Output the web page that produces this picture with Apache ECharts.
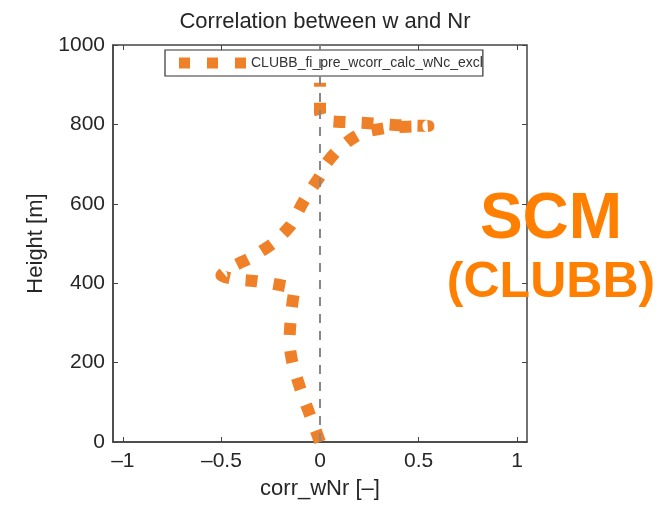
<!DOCTYPE html>
<html>
<head>
<meta charset="utf-8">
<script src="https://cdn.jsdelivr.net/npm/echarts@6/dist/echarts.min.js"></script>
<style>
    html, body { margin: 0; padding: 0; background: #fff; }
    #chart { width: 672px; height: 505px; }
</style>
</head>
<body>
<div id="chart"></div>
<script>
    // profile: correlation vs height
    const heights = [0, 40, 80, 120, 150, 200, 250, 300, 350, 385, 395, 405, 410, 420, 440, 465, 500, 545, 600, 640, 670, 700, 730, 760, 780, 792, 796, 798, 803, 806, 808, 815, 830, 870, 905];
    const corr    = [0, -0.03, -0.06, -0.09, -0.11, -0.14, -0.155, -0.15, -0.14, -0.13, -0.2, -0.32, -0.43, -0.5, -0.45, -0.35, -0.24, -0.15, -0.09, -0.04, 0, 0.03, 0.08, 0.15, 0.22, 0.35, 0.55, 0.4, 0.25, 0.12, 0.05, 0.01, 0, 0, 0];
    const xTicks = [-1, -0.5, 0, 0.5, 1];
    const seriesName = 'CLUBB_fi_pre_wcorr_calc_wNc_excl';

    const orange = '#f08028';
    const font = 'Liberation Sans, Arial, Helvetica, sans-serif';
    const fmt = v => String(v).replace('-', '\u2013');

    const points = heights.map((h, i) => [corr[i], h]);

    const chart = echarts.init(document.getElementById('chart'));
    chart.setOption({
        animation: false,
        textStyle: { fontFamily: font },
        title: {
            text: 'Correlation between w and Nr',
            left: 320,
            textAlign: 'center',
            top: 6,
            textStyle: { fontFamily: font, fontSize: 22, fontWeight: 'normal', color: '#262626' }
        },
        legend: {
            left: 165,
            top: 50,
            padding: [6, 0, 6, 14],
            borderColor: '#333',
            borderWidth: 1.2,
            itemWidth: 67,
            itemHeight: 11,
            itemGap: 5,
            icon: 'path://M0,0h11v11h-11z M28,0h11v11h-11z M56,0h11v11h-11z',
            itemStyle: { color: orange },
            data: [seriesName],
            textStyle: {
                fontFamily: font, fontSize: 14, color: '#333',
                width: 236, overflow: 'truncate', ellipsis: ''
            }
        },
        grid: {
            left: 113, right: 145, top: 45, bottom: 60,
            show: true, borderColor: '#444', borderWidth: 1.5
        },
        xAxis: [{
            type: 'value', min: -1.05, max: 1.05,
            name: 'corr_wNr [\u2013]', nameLocation: 'middle', nameGap: 36,
            nameTextStyle: { fontFamily: font, fontSize: 22, color: '#262626' },
            axisLine: { onZero: false, lineStyle: { color: '#444', width: 1.5 } },
            axisTick: { inside: true, length: 5, customValues: xTicks, lineStyle: { color: '#444' } },
            axisLabel: { customValues: xTicks, formatter: fmt, fontSize: 21, color: '#262626', margin: 9 },
            splitLine: { show: false }
        }, {
            type: 'value', min: -1.05, max: 1.05, position: 'top',
            axisLine: { show: false, onZero: false },
            axisTick: { inside: true, length: 5, customValues: xTicks, lineStyle: { color: '#444' } },
            axisLabel: { show: false },
            splitLine: { show: false }
        }],
        yAxis: [{
            type: 'value', min: 0, max: 1000, interval: 200,
            name: 'Height [m]', nameLocation: 'middle', nameGap: 66,
            nameTextStyle: { fontFamily: font, fontSize: 22, color: '#262626' },
            axisLine: { onZero: false, lineStyle: { color: '#444', width: 1.5 } },
            axisTick: { inside: true, length: 5, lineStyle: { color: '#444' } },
            axisLabel: { fontSize: 21, color: '#262626', margin: 8, formatter: v => String(v) },
            splitLine: { show: false }
        }, {
            type: 'value', min: 0, max: 1000, interval: 200, position: 'right',
            axisLine: { show: false, onZero: false },
            axisTick: { inside: true, length: 5, lineStyle: { color: '#444' } },
            axisLabel: { show: false },
            splitLine: { show: false }
        }],
        series: [{
            name: seriesName,
            type: 'line',
            data: points,
            symbol: 'none',
            smooth: 0.2,
            color: orange,
            lineStyle: { color: orange, width: 12, type: [12, 16], cap: 'butt', join: 'round' },
            markLine: {
                silent: true,
                symbol: 'none',
                label: { show: false },
                lineStyle: { color: '#888', width: 2, type: [9, 8] },
                data: [{ xAxis: 0 }]
            }
        }],
        graphic: [{
            type: 'text', x: 551, y: 220,
            style: {
                text: 'SCM', textAlign: 'center', textVerticalAlign: 'middle',
                font: 'bold 64px ' + font, fill: '#ff7f00'
            }
        }, {
            type: 'text', x: 551, y: 283,
            style: {
                text: '(CLUBB)', textAlign: 'center', textVerticalAlign: 'middle',
                font: 'bold 50px ' + font, fill: '#ff7f00'
            }
        }]
    });
</script>
</body>
</html>
